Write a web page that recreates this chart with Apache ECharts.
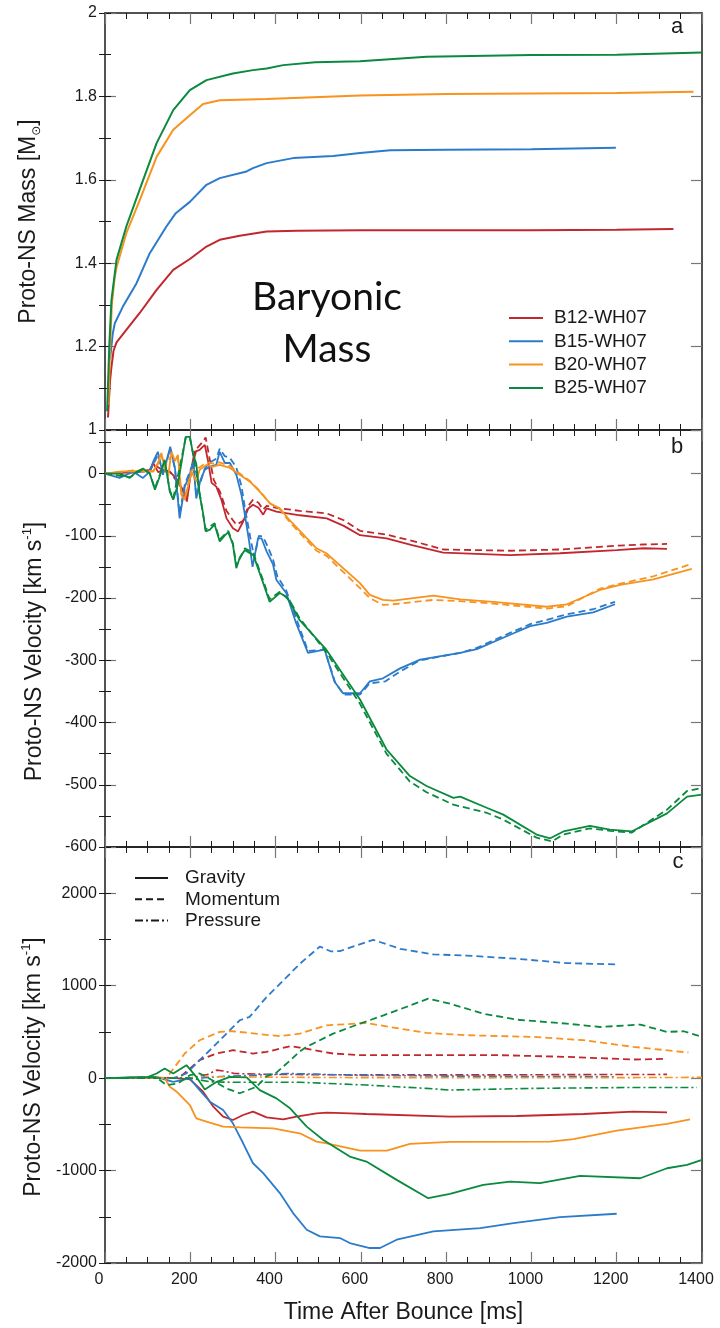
<!DOCTYPE html>
<html>
<head>
<meta charset="utf-8">
<title>Proto-NS mass and velocity</title>
<script src="https://cdn.jsdelivr.net/npm/echarts@6/dist/echarts.min.js"></script>
<style>
  html, body { margin: 0; padding: 0; background: #ffffff; }
  #chart { width: 720px; height: 1328px; }
</style>
</head>
<body>
<div id="chart"></div>
<script>
// ---- model names and colours ----
const models = ['B12-WH07', 'B15-WH07', 'B20-WH07', 'B25-WH07'];
const colors = ['#c1272d', '#2c7bcb', '#f7931e', '#0a8a3e'];

// ---- panel a: baryonic mass [Msun] vs time after bounce [ms] ----
const massB12 = [[7,1.03],[12,1.12],[15,1.15],[20,1.19],[27,1.21],[50,1.24],[81,1.28],[121,1.336],[160,1.384],[199,1.41],[238,1.44],[269,1.456],[316,1.466],[379,1.476],[450,1.478],[600,1.479],[800,1.479],[1000,1.479],[1200,1.48],[1333,1.482]];
const massB15 = [[12,1.17],[14,1.19],[18,1.23],[23,1.256],[42,1.296],[74,1.352],[105,1.424],[144,1.488],[166,1.52],[199,1.547],[238,1.588],[269,1.604],[332,1.62],[347,1.628],[379,1.64],[441,1.652],[535,1.657],[598,1.664],[669,1.671],[800,1.672],[1000,1.673],[1198,1.677]];
const massB20 = [[8,1.06],[12,1.2],[16,1.3],[22,1.36],[27,1.39],[50,1.472],[81,1.55],[121,1.655],[160,1.72],[199,1.755],[230,1.782],[269,1.791],[379,1.794],[598,1.802],[800,1.806],[1000,1.807],[1200,1.808],[1380,1.811]];
const massB25 = [[5,1.045],[10,1.2],[15,1.31],[27,1.408],[50,1.488],[81,1.576],[121,1.688],[160,1.767],[199,1.815],[238,1.839],[300,1.855],[347,1.863],[379,1.867],[418,1.875],[493,1.882],[598,1.884],[754,1.895],[1000,1.899],[1200,1.9],[1400,1.905]];

// ---- panel b: proto-NS velocity [km/s], solid and dashed estimates ----
const velB12 = [[0,0],[34,1],[66,2],[105,6],[113,17],[125,2],[136,6],[152,3],[170,-10],[187,-34],[192,-45],[203,9],[210,35],[222,38],[234,46],[242,19],[250,-15],[261,-21],[273,-42],[285,-72],[300,-88],[312,-93],[324,-77],[336,-56],[347,-50],[360,-55],[371,-66],[379,-56],[402,-61],[457,-67],[520,-72],[560,-84],[598,-99],[660,-104],[720,-115],[793,-127],[950,-131],[1067,-128],[1200,-123],[1263,-120],[1318,-121]];
const velB12d = [[0,0],[66,2],[105,5],[113,15],[136,5],[152,3],[187,-30],[192,-40],[203,8],[215,40],[228,50],[236,58],[245,25],[255,-10],[270,-30],[285,-60],[300,-75],[308,-82],[324,-76],[336,-52],[347,-42],[360,-47],[371,-58],[379,-52],[402,-55],[457,-60],[520,-64],[560,-75],[598,-92],[660,-98],[720,-108],[793,-122],[950,-124],[1067,-122],[1200,-116],[1263,-114],[1318,-113]];
const velB15 = [[0,0],[34,-7],[66,3],[89,-7],[105,3],[113,19],[124,35],[136,-2],[153,43],[164,9],[175,-72],[187,-21],[197,-5],[207,19],[214,-40],[224,-10],[234,6],[246,11],[261,14],[269,35],[281,17],[293,17],[308,-2],[320,-34],[328,-66],[338,-109],[346,-150],[359,-104],[367,-104],[379,-125],[394,-146],[402,-171],[425,-192],[448,-240],[476,-288],[515,-283],[538,-334],[558,-353],[598,-353],[621,-334],[652,-329],[692,-313],[739,-299],[833,-288],[872,-282],[950,-259],[997,-245],[1036,-240],[1083,-230],[1145,-223],[1196,-210]];
const velB15d = [[0,0],[66,3],[105,3],[124,30],[136,0],[153,40],[164,8],[175,-65],[187,-18],[207,17],[214,-35],[234,8],[246,18],[261,24],[269,40],[281,28],[293,25],[308,10],[320,-20],[328,-55],[340,-100],[350,-135],[361,-100],[370,-101],[382,-118],[394,-138],[404,-165],[425,-188],[448,-232],[476,-285],[515,-283],[540,-336],[560,-355],[598,-355],[621,-337],[657,-334],[692,-318],[739,-300],[833,-288],[872,-280],[950,-256],[997,-242],[1036,-235],[1083,-226],[1145,-218],[1196,-206]];
const velB20 = [[0,0],[34,3],[66,4],[113,3],[124,17],[132,33],[140,9],[148,-5],[156,35],[164,20],[171,30],[179,-34],[187,-42],[195,-20],[203,3],[214,-13],[222,6],[238,14],[253,11],[269,14],[293,9],[316,-2],[340,-13],[363,-29],[387,-48],[410,-56],[433,-75],[496,-120],[519,-128],[598,-176],[621,-195],[652,-203],[676,-204],[770,-196],[833,-202],[911,-206],[1036,-214],[1083,-210],[1161,-187],[1208,-179],[1286,-170],[1376,-153]];
const velB20d = [[0,0],[66,5],[113,4],[124,15],[132,30],[140,10],[156,30],[171,26],[179,-30],[187,-38],[203,5],[222,10],[238,18],[253,16],[269,18],[293,12],[316,0],[340,-12],[363,-28],[387,-48],[410,-57],[433,-78],[496,-124],[519,-132],[598,-184],[621,-200],[652,-211],[676,-210],[770,-203],[833,-205],[911,-209],[1036,-217],[1083,-213],[1161,-185],[1208,-177],[1286,-165],[1376,-145]];
const velB25 = [[0,0],[34,0],[58,-7],[74,3],[89,8],[105,0],[117,-26],[128,-5],[140,22],[152,-29],[160,-42],[170,-20],[180,20],[189,59],[199,59],[207,30],[214,16],[222,-34],[229,-60],[236,-93],[246,-90],[257,-82],[269,-109],[280,-100],[289,-94],[300,-114],[308,-152],[316,-135],[328,-123],[348,-131],[371,-176],[386,-206],[410,-192],[425,-198],[433,-206],[456,-235],[519,-283],[598,-363],[660,-443],[715,-486],[754,-502],[817,-521],[833,-519],[895,-537],[934,-548],[1012,-580],[1044,-586],[1075,-575],[1137,-566],[1184,-572],[1235,-575],[1318,-546],[1365,-519],[1400,-516]];
const velB25d = [[0,0],[58,-6],[89,7],[105,0],[117,-24],[140,20],[152,-27],[160,-40],[189,56],[199,58],[207,30],[222,-32],[236,-90],[257,-80],[269,-106],[289,-92],[300,-112],[308,-148],[328,-120],[348,-128],[371,-172],[386,-202],[410,-190],[433,-204],[456,-232],[519,-287],[598,-370],[660,-450],[715,-495],[754,-512],[817,-532],[895,-545],[934,-556],[1012,-585],[1048,-591],[1075,-580],[1137,-570],[1184,-574],[1235,-577],[1318,-540],[1365,-510],[1400,-505]];

// ---- panel c: velocity contributions [km/s] ----
const gravB12 = [[0,0],[100,5],[160,3],[199,-14],[230,-147],[254,-309],[277,-417],[300,-453],[324,-399],[347,-363],[379,-424],[418,-446],[449,-417],[496,-381],[520,-374],[574,-381],[613,-388],[809,-417],[966,-410],[1122,-388],[1239,-363],[1318,-370]];
const gravB15 = [[0,0],[120,14],[160,-40],[199,-4],[222,-130],[246,-256],[277,-345],[300,-489],[324,-705],[347,-921],[371,-1028],[410,-1244],[441,-1460],[473,-1640],[504,-1712],[551,-1730],[574,-1784],[621,-1838],[645,-1838],[684,-1748],[770,-1658],[880,-1622],[958,-1568],[1067,-1503],[1200,-1467]];
const gravB20 = [[0,0],[120,8],[140,0],[152,-94],[168,-147],[199,-291],[214,-435],[238,-471],[277,-525],[316,-532],[395,-543],[434,-579],[457,-597],[496,-687],[520,-705],[574,-759],[598,-784],[661,-784],[715,-712],[809,-690],[1044,-686],[1099,-661],[1200,-568],[1318,-496],[1372,-446]];
const gravB25 = [[0,0],[100,10],[121,50],[140,104],[160,50],[191,140],[214,14],[234,-122],[262,-40],[293,14],[332,7],[363,-130],[402,-219],[434,-327],[473,-525],[512,-669],[574,-849],[613,-903],[684,-1101],[758,-1299],[809,-1252],[887,-1155],[950,-1119],[1020,-1137],[1114,-1058],[1255,-1083],[1318,-975],[1365,-939],[1400,-885]];
const momB12 = [[0,0],[173,0],[222,194],[261,266],[300,302],[347,266],[379,284],[434,345],[457,330],[535,266],[598,248],[692,248],[927,248],[1083,230],[1239,201],[1318,208]];
const momB15 = [[0,0],[160,0],[191,50],[222,194],[254,338],[285,482],[316,626],[339,662],[379,877],[426,1093],[457,1237],[504,1424],[530,1370],[551,1374],[629,1496],[692,1399],[770,1338],[848,1326],[966,1291],[1083,1244],[1200,1230]];
const momB20 = [[0,0],[144,0],[187,266],[222,410],[269,500],[300,507],[410,453],[457,482],[520,571],[613,596],[692,535],[754,489],[848,464],[1005,446],[1122,410],[1239,338],[1368,277]];
const momB25 = [[0,0],[120,10],[144,-75],[170,-60],[199,32],[222,50],[238,14],[285,-112],[316,-164],[355,-94],[379,20],[402,60],[434,190],[457,290],[473,340],[535,481],[598,590],[653,679],[758,859],[809,805],[887,697],[966,632],[1083,589],[1161,553],[1255,579],[1318,500],[1357,507],[1400,446]];
const presB12 = [[0,0],[200,0],[240,40],[262,86],[280,75],[303,50],[387,40],[600,35],[900,35],[1100,38],[1318,40]];
const presB15 = [[0,0],[220,0],[280,20],[350,30],[430,50],[600,30],[800,22],[1000,18],[1200,15]];
const presB20 = [[0,0],[200,0],[230,25],[260,15],[400,10],[600,5],[900,3],[1200,5],[1400,8]];
const presB25 = [[0,0],[200,0],[246,-40],[300,-45],[457,-45],[613,-75],[754,-111],[809,-129],[1005,-111],[1239,-101],[1388,-101]];

// ---- axis ticks ----
const timeTicks = { min: 0, max: 1400, major: 200, minorSplit: 4 };
const massTicks = { min: 1, max: 2, major: 0.2, minor: 0.1 };
const velTicks = { min: -600, max: 70, major: 100, minor: 50 };
const contribTicks = { min: -2000, max: 2500, major: 1000, minor: 500 };

const FONT = 'Liberation Sans';
const INK = '#1a1a1a';
const DASH = [7, 4];
const DASHDOT = [8, 3, 2, 3];

const grids = [
  { left: 105, right: 18, top: 13, height: 417, outerBoundsMode: 'none' },
  { left: 105, right: 18, top: 430, height: 417, outerBoundsMode: 'none' },
  { left: 105, right: 18, top: 847, height: 416, outerBoundsMode: 'none' }
];

function xAxisFor(g, position, labelled) {
  return {
    type: 'value', gridIndex: g, position: position,
    min: timeTicks.min, max: timeTicks.max, interval: timeTicks.major,
    axisLine: { show: true, onZero: false, lineStyle: { color: INK, width: 1.5 } },
    axisTick: { show: true, inside: true, length: 11, lineStyle: { color: '#777', width: 1.2 } },
    minorTick: { show: true, splitNumber: timeTicks.minorSplit, length: 6, lineStyle: { color: INK, width: 1 } },
    splitLine: { show: false },
    axisLabel: {
      show: labelled, fontFamily: FONT, fontSize: 16, color: INK, margin: 9,
      padding: [0, 12, 0, 0],
      formatter: function (v) { return String(v); }
    },
    name: labelled ? 'Time After Bounce [ms]' : '',
    nameLocation: 'middle', nameGap: 38,
    nameTextStyle: { fontFamily: FONT, fontSize: 23, color: INK }
  };
}

function yMajor(g, t, position, labelled, name, rich, gap, shift) {
  return {
    type: 'value', gridIndex: g, position: position,
    min: t.min, max: t.max, interval: t.major,
    axisLine: { show: true, onZero: false, lineStyle: { color: INK, width: 1.5 } },
    axisTick: { show: true, inside: true, length: 11, lineStyle: { color: '#777', width: 1.2 } },
    splitLine: { show: false },
    axisLabel: {
      show: labelled, fontFamily: FONT, fontSize: 16, color: INK, margin: 8,
      showMaxLabel: Math.abs(Math.round(t.max / t.major) * t.major - t.max) < 1e-9,
      formatter: function (v) { return String(Math.round(v * 10) / 10); }
    },
    name: labelled ? name : '',
    nameLocation: 'middle', nameGap: gap || 60, nameRotate: 90,
    nameTextStyle: { fontFamily: FONT, fontSize: 23, color: INK, rich: rich, padding: [0, shift || 0, 0, 0] }
  };
}

function yMinor(g, t, position) {
  return {
    type: 'value', gridIndex: g, position: position,
    min: t.min, max: t.max, interval: t.minor,
    axisLine: { show: false },
    axisTick: { show: true, inside: true, length: 6, lineStyle: { color: INK, width: 1 } },
    splitLine: { show: false },
    axisLabel: { show: false }
  };
}

const massRich = {
  t: { fontFamily: FONT, fontSize: 23, color: INK, lineHeight: 28 },
  s: { fontFamily: 'DejaVu Sans', fontSize: 12, color: INK, verticalAlign: 'bottom', lineHeight: 16 }
};
const velRich = {
  t: { fontFamily: FONT, fontSize: 23, color: INK, lineHeight: 28 },
  p: { fontFamily: FONT, fontSize: 13, color: INK, verticalAlign: 'top', lineHeight: 16 }
};
const massName = '{t|Proto-NS Mass [M}{s|\u2299}{t|]}';
const velName = '{t|Proto-NS Velocity [km s}{p|-1}{t|]}';

const xAxes = [];
const yAxes = [];
[0, 1, 2].forEach(function (g) {
  xAxes.push(xAxisFor(g, 'bottom', g === 2));
  xAxes.push(xAxisFor(g, 'top', false));
});
// x axis indices: grid g -> 2*g (bottom)
const yTicks = [massTicks, velTicks, contribTicks];
const yNames = [massName, velName, velName];
const yRich = [massRich, velRich, velRich];
const yGaps = [62, 56, 56];
const yShift = [0, 26, 24];
[0, 1, 2].forEach(function (g) {
  yAxes.push(yMajor(g, yTicks[g], 'left', true, yNames[g], yRich[g], yGaps[g], yShift[g]));
  yAxes.push(yMajor(g, yTicks[g], 'right', false, '', null));
  yAxes.push(yMinor(g, yTicks[g], 'left'));
  yAxes.push(yMinor(g, yTicks[g], 'right'));
});
// y axis indices: grid g -> 4*g (left, labelled)

function line(name, data, g, color, dash, width) {
  return {
    type: 'line', name: name, data: data,
    xAxisIndex: 2 * g, yAxisIndex: 4 * g,
    symbol: 'none', showSymbol: false, smooth: false, animation: false,
    lineStyle: { color: color, width: width || 1.8, type: dash || 'solid' },
    itemStyle: { color: color }
  };
}

const massSeries = [massB12, massB15, massB20, massB25];
const velSolid = [velB12, velB15, velB20, velB25];
const velDashed = [velB12d, velB15d, velB20d, velB25d];
const gravity = [gravB12, gravB15, gravB20, gravB25];
const momentum = [momB12, momB15, momB20, momB25];
const pressure = [presB12, presB15, presB20, presB25];

const series = [];
models.forEach(function (m, i) { series.push(line(m, massSeries[i], 0, colors[i], 'solid', 2)); });
models.forEach(function (m, i) {
  series.push(line(m + ' velocity', velSolid[i], 1, colors[i], 'solid'));
  series.push(line(m + ' velocity (alt)', velDashed[i], 1, colors[i], DASH));
});
models.forEach(function (m, i) {
  series.push(line(m + ' pressure', pressure[i], 2, colors[i], DASHDOT, 1.6));
  series.push(line(m + ' momentum', momentum[i], 2, colors[i], DASH));
  series.push(line(m + ' gravity', gravity[i], 2, colors[i], 'solid'));
});
// key entries for the contribution panel
series.push(line('Gravity', [], 2, INK, 'solid', 1.8));
series.push(line('Momentum', [], 2, INK, DASH, 1.8));
series.push(line('Pressure', [], 2, INK, DASHDOT, 1.8));

const chart = echarts.init(document.getElementById('chart'), null, { renderer: 'canvas' });
chart.setOption({
  backgroundColor: '#ffffff',
  animation: false,
  grid: grids,
  xAxis: xAxes,
  yAxis: yAxes,
  legend: [
    {
      data: models, orient: 'vertical', left: 508, top: 308, padding: 0,
      itemWidth: 34, itemHeight: 10, itemGap: 3.3,
      selectedMode: false,
      itemStyle: { opacity: 0 },
      textStyle: { fontFamily: FONT, fontSize: 19, color: INK, lineHeight: 20, padding: [0, 0, 0, 6] }
    },
    {
      data: ['Gravity', 'Momentum', 'Pressure'], orient: 'vertical', left: 134, top: 868, padding: 0,
      itemWidth: 33, itemHeight: 10, itemGap: 1.3,
      selectedMode: false,
      itemStyle: { opacity: 0 },
      textStyle: { fontFamily: FONT, fontSize: 19, color: INK, lineHeight: 20, padding: [0, 0, 0, 12] }
    }
  ],
  graphic: [
    { type: 'text', x: 327, y: 323, silent: true,
      style: { text: 'Baryonic\nMass', fontFamily: 'Lato', fontSize: 39, lineHeight: 52,
               fill: '#111', align: 'center', verticalAlign: 'middle' } },
    { type: 'text', x: 677, y: 27, silent: true,
      style: { text: 'a', fontFamily: FONT, fontSize: 22, fill: INK, align: 'center', verticalAlign: 'middle' } },
    { type: 'text', x: 677, y: 447, silent: true,
      style: { text: 'b', fontFamily: FONT, fontSize: 22, fill: INK, align: 'center', verticalAlign: 'middle' } },
    { type: 'text', x: 678, y: 862, silent: true,
      style: { text: 'c', fontFamily: FONT, fontSize: 22, fill: INK, align: 'center', verticalAlign: 'middle' } }
  ],
  series: series
});
</script>
</body>
</html>
